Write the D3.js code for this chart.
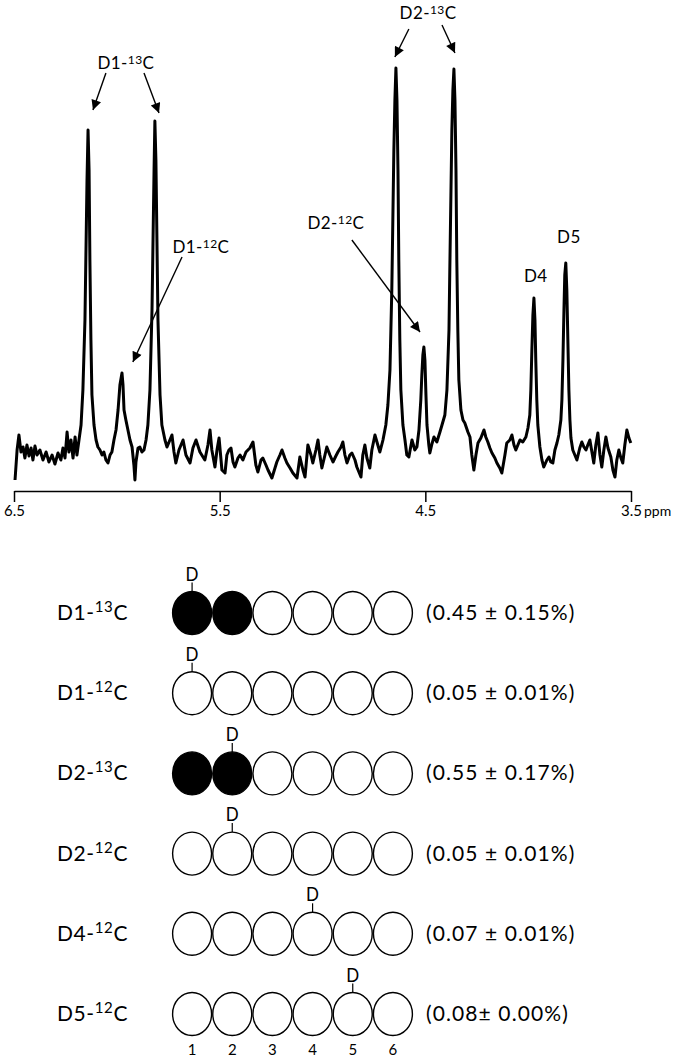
<!DOCTYPE html>
<html lang="en">
<head>
<meta charset="UTF-8">
<title>Deuterium NMR spectrum</title>
<script src="https://cdn.jsdelivr.net/npm/d3@7"></script>
<style>
  body { margin: 0; background: #fff; }
  svg { display: block; font-family: Lato, "Open Sans", sans-serif; }
</style>
</head>
<body>
<script>
var w = 693, h = 1057;

// chemical shift (ppm)
var shift = [
  6.495, 6.485, 6.476, 6.466, 6.456, 6.447, 6.437, 6.427, 6.417, 6.408,
  6.398, 6.388, 6.374, 6.359, 6.344, 6.330, 6.315, 6.301, 6.286, 6.272,
  6.262, 6.252, 6.242, 6.233, 6.223, 6.213, 6.203, 6.194, 6.184,
  6.174, 6.165, 6.155, 6.150, 6.145, 6.140, 6.135, 6.131, 6.126, 6.121,
  6.111, 6.101, 6.092, 6.082, 6.072, 6.063, 6.053, 6.043, 6.033, 6.024, 6.014,
  6.004, 5.994, 5.985, 5.975, 5.970, 5.965, 5.956, 5.946, 5.936, 5.926,
  5.917, 5.912, 5.907, 5.897, 5.888, 5.878, 5.868, 5.858,
  5.849, 5.839, 5.829, 5.824, 5.819, 5.815, 5.810, 5.805, 5.800, 5.790,
  5.781, 5.766, 5.756, 5.742, 5.732, 5.722, 5.713, 5.698, 5.678, 5.664,
  5.644, 5.630, 5.615, 5.596, 5.572, 5.557, 5.547, 5.538, 5.523, 5.513,
  5.503, 5.489, 5.474, 5.465, 5.455, 5.445, 5.435, 5.426, 5.411, 5.401,
  5.387, 5.372, 5.353, 5.338, 5.324, 5.314, 5.299, 5.290, 5.275, 5.265,
  5.246, 5.231, 5.222, 5.207, 5.197, 5.183, 5.173, 5.158, 5.144, 5.124,
  5.110, 5.095, 5.085, 5.071, 5.056, 5.047, 5.032, 5.022, 5.013, 5.003,
  4.988, 4.979, 4.964, 4.949, 4.935, 4.925, 4.910, 4.901, 4.891, 4.881,
  4.867, 4.857, 4.842, 4.833, 4.823, 4.813, 4.804, 4.794, 4.784, 4.770,
  4.760, 4.745, 4.731, 4.721, 4.706,
  4.692, 4.682, 4.672, 4.663, 4.658, 4.653, 4.648, 4.643, 4.638, 4.633,
  4.629, 4.624, 4.619, 4.609, 4.599, 4.590, 4.580, 4.565, 4.551, 4.541, 4.531,
  4.522, 4.517, 4.512, 4.507, 4.502, 4.497, 4.492, 4.483, 4.478, 4.468,
  4.458, 4.444, 4.429, 4.419,
  4.405, 4.395, 4.385, 4.381, 4.376, 4.371, 4.366, 4.361, 4.356, 4.351,
  4.347, 4.342, 4.337, 4.327, 4.317, 4.308, 4.293, 4.283, 4.274, 4.264,
  4.254, 4.244, 4.230, 4.215, 4.206, 4.196, 4.186, 4.176, 4.162, 4.152,
  4.138, 4.128, 4.113, 4.104, 4.089, 4.079, 4.069, 4.060, 4.050, 4.040,
  4.026, 4.011,
  4.001, 3.992, 3.987, 3.982, 3.977, 3.972, 3.967, 3.963, 3.958, 3.953,
  3.943, 3.933, 3.924, 3.909, 3.899, 3.890, 3.880, 3.870, 3.860, 3.851,
  3.841, 3.836, 3.831, 3.826, 3.822, 3.817, 3.812, 3.807, 3.802, 3.797,
  3.792, 3.783, 3.773, 3.763, 3.749, 3.739, 3.729, 3.719, 3.710, 3.700,
  3.690, 3.681, 3.671, 3.661, 3.651, 3.642, 3.632, 3.622, 3.612, 3.598,
  3.588, 3.578, 3.569, 3.559, 3.549, 3.540, 3.530, 3.520, 3.510, 3.501
];

// signal intensity (arbitrary units), same order as shift
var signal = [
  -25, 5, 20, 3, 8, -3, 10, -1, 7, -5,
  9, 0, 5, -5, 3, -7, 0, -9, 2, -5,
  7, -3, 23, 3, 15, -3, 18, 0, 15,
  30, 65, 135, 205, 275, 325, 285, 195, 115, 60,
  30, 15, 8, 5, 0, 3, -5, -8, 0, 3, 15,
  25, 45, 70, 82, 70, 45, 35, 25, 15, 8,
  -10, -25, -7, 7, 8, 3, 5, 15,
  30, 65, 145, 215, 285, 334, 295, 215, 135, 60,
  30, 15, 8, 15, 20, 3, -8, 5, 15, 0,
  -8, 7, 15, 3, -5, 10, 25, 5, -12, 5,
  17, -15, -18, 0, 5, 7, -7, -12, -3, 0,
  -5, 3, 7, 13, -10, -17, -5, -3, -10, -15,
  -23, -13, -7, 0, 5, -3, -8, -13, -18, -23,
  -2, -15, -22, 10, 0, -8, 5, 15, 0, -13,
  0, 8, 0, -7, -1, 3, 8, 13, 0, -8,
  0, 2, -5, -12, -17, -22, 0, 10, -3, -13,
  5, 20, 10, 3, 15,
  30, 50, 85, 165, 235, 305, 355, 387, 355, 285,
  195, 115, 65, 30, 15, 0, -2, 15, 5, 8, 25,
  55, 80, 100, 108, 95, 60, 30, 10, 2, 11,
  18, 13, 23, 30,
  40, 65, 125, 185, 255, 325, 365, 386, 355, 285,
  195, 125, 75, 45, 35, 32, 23, 18, 0, -15,
  0, 12, 17, 25, 18, 13, 7, 2, -3, -8,
  -13, -18, 0, 12, 15, 20, 10, 5, 10, 15,
  13, 18,
  27, 40, 65, 105, 140, 157, 135, 95, 55, 30,
  8, -5, -12, -5, -2, -7, -8, 5, 12, 20,
  35, 55, 95, 145, 180, 192, 165, 115, 65, 35,
  17, 5, 0, -5, 7, 13, 8, 5, 10, 15,
  3, -8, 10, 22, 0, -12, 5, 18, 7, -2,
  -15, -22, -5, 5, -3, -8, 10, 25, 17, 12
];

var axisTicks = [6.5, 5.5, 4.5, 3.5];

// peak labels: name, superscript mass number, anchor (ppm, intensity)
var peakNames = ["D1-", "D2-", "D1-", "D2-", "D4", "D5"];
var peakMass = ["13", "13", "12", "12", "", ""];
var peakLabelPpm = [5.956, 4.487, 5.591, 4.935, 3.963, 3.802];
var peakLabelInt = [386, 436, 202, 226, 173, 212];

// arrows from label to peak: [ppm, intensity] start and tip
var arrowFrom = [[6.053, 382], [5.868, 382], [4.580, 426], [4.419, 430], [5.683, 198], [4.857, 215]];
var arrowTo = [[6.116, 345], [5.795, 342], [4.648, 398], [4.356, 402], [5.922, 93], [4.526, 123]];

// isotopomer scheme
var isoNames = ["D1-", "D1-", "D2-", "D2-", "D4-", "D5-"];
var isoMass = ["13", "12", "13", "12", "12", "12"];
var carbons = [1, 2, 3, 4, 5, 6];
var deuteriumAt = [1, 1, 2, 2, 4, 5];
var labelledAt = [[1, 2], [], [1, 2], [], [], []];
var enrichment = ["(0.45 ± 0.15%)", "(0.05 ± 0.01%)", "(0.55 ± 0.17%)",
                  "(0.05 ± 0.01%)", "(0.07 ± 0.01%)", "(0.08± 0.00%)"];

var svg = d3.select("body").append("svg")
  .attr("width", w)
  .attr("height", h);

// ---- spectrum ----
var x = d3.scaleLinear().domain([6.5, 3.5]).range([14, 631]);
var y = d3.scaleLinear().domain([0, 400]).range([455, 55]);

svg.append("defs").append("marker")
  .attr("id", "head")
  .attr("viewBox", "0 0 10 10")
  .attr("refX", 10).attr("refY", 5)
  .attr("markerWidth", 12).attr("markerHeight", 10)
  .attr("markerUnits", "userSpaceOnUse")
  .attr("orient", "auto")
  .append("path")
  .attr("d", "M0,0L10,5L0,10Z")
  .attr("fill", "#000");

var line = d3.line()
  .x(function(d) { return x(d[0]); })
  .y(function(d) { return y(d[1]); });

svg.append("path")
  .datum(d3.zip(shift, signal))
  .attr("d", line)
  .attr("fill", "none")
  .attr("stroke", "#000")
  .attr("stroke-width", 3)
  .attr("stroke-linejoin", "round");

// axis
var axis = d3.axisBottom(x)
  .tickValues(axisTicks)
  .tickSize(11)
  .tickSizeOuter(0)
  .tickFormat(d3.format(".1f"));

var gx = svg.append("g")
  .attr("transform", "translate(0,491)")
  .call(axis);
gx.select(".domain").attr("stroke", "#000").attr("stroke-width", 1.5);
gx.selectAll(".tick line").attr("stroke", "#000").attr("stroke-width", 1.5);
gx.selectAll(".tick text")
  .attr("font-family", "Lato, sans-serif")
  .attr("font-size", 15)
  .attr("fill", "#000");

svg.append("text")
  .attr("x", x(3.5) + 13)
  .attr("y", 516)
  .attr("font-size", 14)
  .text("ppm");

// arrows
svg.selectAll(".arrow")
  .data(d3.zip(arrowFrom, arrowTo))
  .enter()
  .append("line")
  .attr("class", "arrow")
  .attr("x1", function(d) { return x(d[0][0]); })
  .attr("y1", function(d) { return y(d[0][1]); })
  .attr("x2", function(d) { return x(d[1][0]); })
  .attr("y2", function(d) { return y(d[1][1]); })
  .attr("stroke", "#000")
  .attr("stroke-width", 1.4)
  .attr("marker-end", "url(#head)");

// peak labels
var pl = svg.selectAll(".peak-label")
  .data(d3.range(peakNames.length))
  .enter()
  .append("text")
  .attr("class", "peak-label")
  .attr("x", function(i) { return x(peakLabelPpm[i]); })
  .attr("y", function(i) { return y(peakLabelInt[i]); })
  .attr("text-anchor", "middle")
  .attr("font-size", 17)
  .attr("letter-spacing", 0.4);
pl.append("tspan").text(function(i) { return peakNames[i]; });
pl.filter(function(i) { return peakMass[i] !== ""; })
  .each(function(i) {
    var t = d3.select(this);
    t.append("tspan").attr("font-size", 12).attr("dy", -5).text(peakMass[i]);
    t.append("tspan").attr("dy", 5).text("C");
  });

// ---- isotopomer scheme ----
var rowY = d3.scalePoint().domain(d3.range(isoNames.length)).range([613, 1014]);
var cx = d3.scaleBand().domain(carbons).range([172, 413]);
var rx = cx.bandwidth() / 2;
var ry = 21.5;

var rows = svg.selectAll(".row")
  .data(d3.range(isoNames.length))
  .enter()
  .append("g")
  .attr("class", "row")
  .attr("transform", function(i) { return "translate(0," + rowY(i) + ")"; });

var rl = rows.append("text")
  .attr("x", 57)
  .attr("y", 7)
  .attr("font-size", 21)
  .attr("letter-spacing", 0.6);
rl.append("tspan").text(function(i) { return isoNames[i]; });
rl.append("tspan").attr("font-size", 15).attr("dy", -8).text(function(i) { return isoMass[i]; });
rl.append("tspan").attr("dy", 8).text("C");

rows.each(function(i) {
  var g = d3.select(this);
  g.selectAll("ellipse")
    .data(carbons)
    .enter()
    .append("ellipse")
    .attr("cx", function(c) { return cx(c) + rx; })
    .attr("cy", 0)
    .attr("rx", rx - 0.6)
    .attr("ry", ry)
    .attr("fill", function(c) { return labelledAt[i].indexOf(c) >= 0 ? "#000" : "#fff"; })
    .attr("stroke", "#000")
    .attr("stroke-width", 1.4);

  var dx = cx(deuteriumAt[i]) + rx;
  g.append("line")
    .attr("x1", dx).attr("x2", dx)
    .attr("y1", -ry).attr("y2", -ry - 9)
    .attr("stroke", "#000")
    .attr("stroke-width", 1.2);
  g.append("text")
    .attr("x", dx)
    .attr("y", -ry - 11)
    .attr("text-anchor", "middle")
    .attr("font-size", 20)
    .attr("transform", "translate(" + dx + "," + (-ry - 11) + ") scale(0.85,1) translate(" + (-dx) + "," + (ry + 11) + ")")
    .text("D");
});

rows.append("text")
  .attr("x", 426)
  .attr("y", 7)
  .attr("font-size", 21)
  .attr("letter-spacing", 1.1)
  .text(function(i) { return enrichment[i]; });

// carbon numbers
svg.selectAll(".cnum")
  .data(carbons)
  .enter()
  .append("text")
  .attr("class", "cnum")
  .attr("x", function(c) { return cx(c) + rx; })
  .attr("y", 1055)
  .attr("text-anchor", "middle")
  .attr("font-size", 15)
  .text(function(c) { return c; });
</script>
</body>
</html>
